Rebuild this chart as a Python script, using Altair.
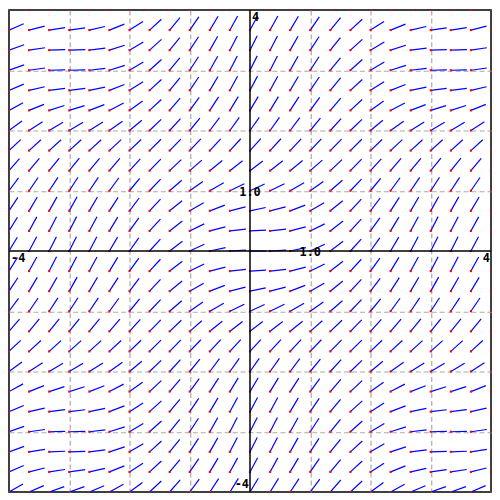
import altair as alt
import numpy as np
import pandas as pd

# Grid of sample points (25 x 25, spacing 1/3) over [-4, 4] x [-4, 4]
x_points = list(np.round(np.linspace(-4, 4, 25), 6))
y_points = list(np.round(np.linspace(-4, 4, 25), 6))
seg_len = 0.8 / 3  # segment length in data units

# Slope field: dy/dx = 1 - cos(x) cos(y)
def slope(x, y):
    return 1 - np.cos(x) * np.cos(y)

rows = []
for x in x_points:
    for y in y_points:
        m = slope(x, y)
        ang = np.arctan(m)
        rows.append({"x": x, "y": y,
                     "x2": x + seg_len * np.cos(ang),
                     "y2": y + seg_len * np.sin(ang)})
field = pd.DataFrame(rows)

grid_values = [-3, -2, -1, 1, 2, 3]
label_text = ["4", "-4", "4", "-4", "1.0", "1.0"]
label_x = [0, -4, 4, 0, 0, 1]
label_y = [4, 0, 0, -4, 1, 0]
label_align = ["left", "left", "right", "right", "center", "center"]
label_base = ["top", "top", "top", "bottom", "middle", "middle"]

labels = pd.DataFrame({"t": label_text, "x": label_x, "y": label_y,
                       "a": label_align, "b": label_base})

xs = alt.Scale(domain=[-4, 4], nice=False, zero=False)
ys = alt.Scale(domain=[-4, 4], nice=False, zero=False)
ax = alt.Axis(values=grid_values, labels=False, ticks=False, domain=False,
              grid=True, gridDash=[5, 3], gridColor="#aaaaaa", gridWidth=1.2,
              title=None)

segs = alt.Chart(field).mark_rule(color="#0000ff", strokeWidth=1.2, clip=True).encode(
    x=alt.X("x:Q", scale=xs, axis=ax),
    y=alt.Y("y:Q", scale=ys, axis=ax),
    x2="x2:Q", y2="y2:Q",
)

tails = alt.Chart(field).mark_square(color="#ff0000", size=4.5, opacity=1, clip=True).encode(
    x=alt.X("x:Q", scale=xs), y=alt.Y("y:Q", scale=ys)
)

axes_df = pd.DataFrame({"v": [0]})
vline = alt.Chart(axes_df).mark_rule(color="black", strokeWidth=1.5).encode(
    x=alt.X("v:Q", scale=xs))
hline = alt.Chart(axes_df).mark_rule(color="black", strokeWidth=1.5).encode(
    y=alt.Y("v:Q", scale=ys))

texts = []
for i in range(len(label_text)):
    d = labels.iloc[[i]]
    dx = {"left": 2, "right": -1, "center": 0}[label_align[i]]
    dy = {"top": 2, "bottom": -1, "middle": 1}[label_base[i]]
    texts.append(alt.Chart(d).mark_text(
        font="DejaVu Sans Mono", fontWeight="bold", fontSize=12, color="black",
        align=label_align[i], baseline=label_base[i], dx=dx, dy=dy
    ).encode(x=alt.X("x:Q", scale=xs), y=alt.Y("y:Q", scale=ys), text="t:N"))

chart = alt.layer(segs, tails, vline, hline, *texts).properties(
    width=484, height=484, padding=0
).configure_view(stroke="black", strokeWidth=1.5)

chart.save("out.html", embed_options={"renderer": "svg", "actions": False})
